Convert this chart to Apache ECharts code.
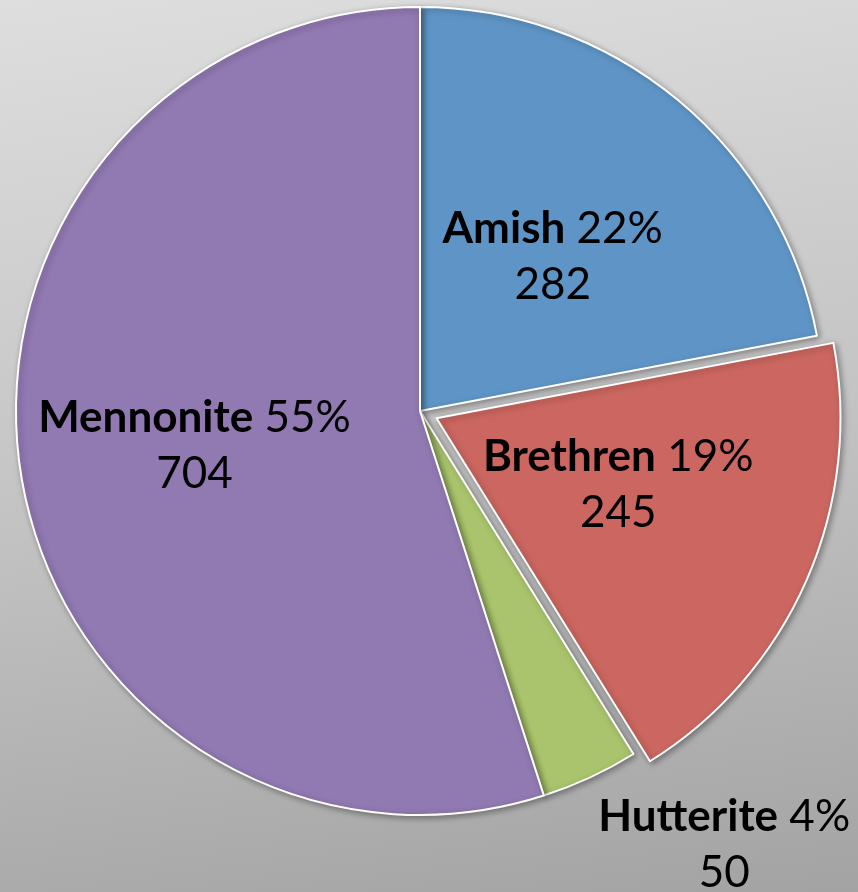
<!DOCTYPE html>
<html>
<head>
<meta charset="utf-8">
<script src="https://cdn.jsdelivr.net/npm/echarts@6/dist/echarts.min.js"></script>
<style>
html,body{margin:0;padding:0;}
body{width:858px;height:892px;background:linear-gradient(172deg,#dedede 0%,#c4c4c4 50%,#a3a3a3 100%);}
#chart{width:858px;height:892px;}
</style>
</head>
<body>
<div id="chart"></div>
<script>
const categories = ['Amish', 'Brethren', 'Hutterite', 'Mennonite'];
const counts = [282, 245, 50, 704];
const colors = ['#5f95c6', '#cc6660', '#a9c46c', '#9179b2'];
const explodedCategory = 'Brethren';
// label nudges (px) relative to the library's inside-label position
const labelShift = [[2, 4], [-6, -16], [218, 248], [-23, 3]];

const chart = echarts.init(document.getElementById('chart'), null, {renderer: 'canvas'});
const data = categories.map((name, i) => ({
  name: name,
  value: counts[i],
  selected: name === explodedCategory,
  itemStyle: {color: colors[i]}
}));

chart.setOption({
  backgroundColor: 'transparent',
  animation: false,
  series: [{
    type: 'pie',
    center: [420, 411],
    radius: [0, 404],
    startAngle: 90,
    clockwise: true,
    selectedMode: 'single',
    selectedOffset: 18,
    percentPrecision: 0,
    avoidLabelOverlap: false,
    itemStyle: {
      borderColor: '#ffffff',
      borderWidth: 2,
      shadowBlur: 6,
      shadowColor: 'rgba(0,0,0,0.35)',
      shadowOffsetX: 2,
      shadowOffsetY: 2
    },
    emphasis: {disabled: true},
    select: {itemStyle: {borderColor: '#ffffff', borderWidth: 2}},
    label: {
      show: true,
      position: 'inside',
      formatter: '{b|{b}} {p|{d}%}\n{p|{c}}',
      color: '#000',
      fontFamily: 'Lato',
      fontSize: 44,
      lineHeight: 56,
      align: 'center',
      rich: {
        b: {fontFamily: 'Lato', fontSize: 44, fontWeight: 'bold', color: '#000', lineHeight: 56},
        p: {fontFamily: 'Lato', fontSize: 44, fontWeight: 'normal', color: '#000', lineHeight: 56}
      }
    },
    labelLine: {show: false},
    labelLayout: function (params) {
      const s = labelShift[params.dataIndex] || [0, 0];
      return {dx: s[0], dy: s[1]};
    },
    data: data
  }]
});
</script>
</body>
</html>
